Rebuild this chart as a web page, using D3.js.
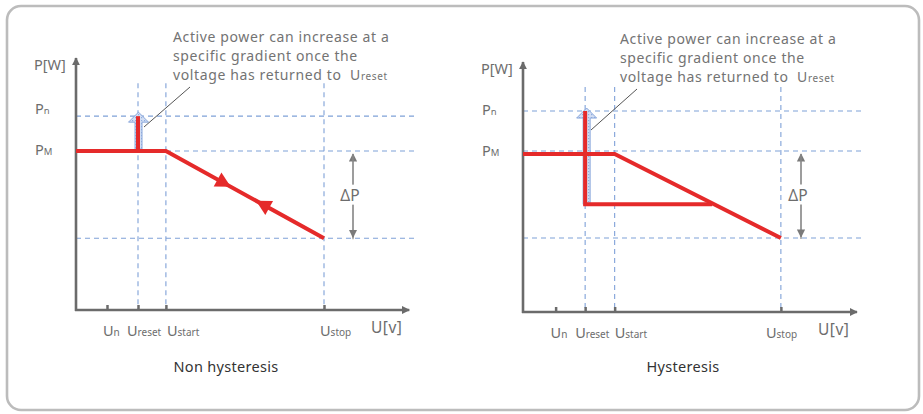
<!DOCTYPE html>
<html><head><meta charset="utf-8">
<script src="https://cdn.jsdelivr.net/npm/d3@7"></script>
<style>body{margin:0;background:#fff} svg{display:block}</style>
</head><body><svg id="chart" width="923" height="414"></svg>
<script>
// Marker names on the U axis and P axis (main letter + subscript)
const uTickNames = [["U", "n"], ["U", "reset"], ["U", "start"], ["U", "stop"]];
const pLevelNames = [["P", "n"], ["P", "M"]];
const panelTitles = ["Non hysteresis", "Hysteresis"];
const noteLines = ["Active power can increase at a", "specific gradient once the", "voltage has returned to  "];

// Non hysteresis: Un, Ureset, Ustart, Ustop and Pn, PM, P(Ustop)
const nhVoltages = [1, 2, 2.9, 8];
const nhPowers = [100, 82, 37];
const nhCurve = [[0, 82], [2.9, 82], [8, 37]];
const nhReset = [[2, 82], [2, 100]];
const nhDirMarks = [0.36, 0.62];

// Hysteresis: Un, Ureset, Ustart, Ustop and Pn, PM, P(Ustop)
const hyVoltages = [1.05, 2, 2.95, 8.3];
const hyPowers = [104.5, 83.7, 38.5];
const hyCurve = [[0, 82.2], [2.95, 82.2], [8.3, 38.5]];
const hyReturn = [[6.09, 56], [2, 56], [2, 104.5]];

const uMax = 10.75, uGrid = 11, pMax = 130, pGridTop = 117;

const svg = d3.select("#chart");
const RED = "#e52a2a", BLUE = "#7fa1d8", AXIS = "#6b6b6b", TXT = "#6d6d6d";
const FONT = "'Noto Sans', sans-serif";

// outer rounded frame
svg.append("rect").attr("x", 7).attr("y", 6).attr("width", 912).attr("height", 404)
  .attr("rx", 14).attr("fill", "#fff").attr("stroke", "#bcbcbc").attr("stroke-width", 2.6);

const defs = svg.append("defs");
defs.append("marker").attr("id", "axArrow").attr("viewBox", "0 0 10 10")
  .attr("refX", 9).attr("refY", 5).attr("markerWidth", 3.2).attr("markerHeight", 3.2)
  .attr("orient", "auto").attr("markerUnits", "strokeWidth")
  .append("path").attr("d", "M0,0L10,5L0,10z").attr("fill", AXIS);
defs.append("marker").attr("id", "dpArrow").attr("viewBox", "0 0 10 10")
  .attr("refX", 9).attr("refY", 5).attr("markerWidth", 7).attr("markerHeight", 7)
  .attr("orient", "auto").attr("markerUnits", "strokeWidth")
  .append("path").attr("d", "M0,0L10,5L0,10z").attr("fill", "#7a7a7a");
const pat = defs.append("pattern").attr("id", "hatch").attr("width", 3).attr("height", 3)
  .attr("patternUnits", "userSpaceOnUse");
pat.append("rect").attr("width", 3).attr("height", 3).attr("fill", "#d3def3");
pat.append("rect").attr("width", 1.2).attr("height", 1.2).attr("fill", "#8fadde");

function subText(g, x, y, main, sub, size, subSize, anchor) {
  const t = g.append("text").attr("x", x).attr("y", y).attr("font-family", FONT)
    .attr("fill", TXT).attr("font-size", size).attr("text-anchor", anchor || "start");
  t.append("tspan").text(main);
  t.append("tspan").attr("font-size", subSize).text(sub);
  return t;
}

function drawPanel(cfg) {
  const g = svg.append("g");
  const x = d3.scaleLinear().domain([0, uMax]).range(cfg.xRange);
  const y = d3.scaleLinear().domain([0, pMax]).range(cfg.yRange);
  const x0 = x(0), y0 = y(0);

  // dashed reference grid
  const dash = g.append("g").attr("stroke", BLUE).attr("stroke-width", 1.1)
    .attr("stroke-dasharray", "5,4").attr("fill", "none");
  cfg.powers.forEach(p => dash.append("line").attr("x1", x0).attr("x2", x(uGrid))
    .attr("y1", y(p)).attr("y2", y(p)));
  cfg.voltages.slice(1).forEach(u => dash.append("line").attr("x1", x(u)).attr("x2", x(u))
    .attr("y1", y(pGridTop)).attr("y2", y0));

  // axes
  g.append("g").attr("transform", `translate(0,${y0})`)
    .call(d3.axisBottom(x).tickValues(cfg.voltages).tickSizeInner(-5).tickSizeOuter(0).tickFormat(""))
    .call(a => a.select(".domain").remove())
    .call(a => a.selectAll(".tick line").attr("stroke", AXIS).attr("stroke-width", 2.5));
  g.append("line").attr("x1", x0 - 1).attr("x2", x(uMax)).attr("y1", y0).attr("y2", y0)
    .attr("stroke", AXIS).attr("stroke-width", 2.6).attr("marker-end", "url(#axArrow)");
  g.append("line").attr("x1", x0).attr("x2", x0).attr("y1", y0 + 1).attr("y2", y(pMax))
    .attr("stroke", AXIS).attr("stroke-width", 2.6).attr("marker-end", "url(#axArrow)");

  // axis labels
  g.append("text").attr("x", x0 - 42).attr("y", y(124)).attr("font-family", FONT)
    .attr("font-size", 14.5).attr("fill", TXT).text("P[W]");
  pLevelNames.forEach((n, i) => subText(g, x0 - 41, y(cfg.powers[i]) + cfg.pDy[i], n[0], n[1], 14.5, 9.5));
  uTickNames.forEach((n, i) => subText(g, x(cfg.voltages[i]) + cfg.uDx[i], y0 + 26, n[0], n[1], 14.5, 10));
  g.append("text").attr("x", cfg.uvX).attr("y", y0 + 23).attr("font-family", FONT)
    .attr("font-size", 15.5).attr("fill", TXT).attr("letter-spacing", 0.5).text("U[v]");

  // blue block arrow at Ureset (rise towards Pn)
  const ax = x(cfg.voltages[1]) + cfg.arrowShift, aTop = y(cfg.powers[0]) - cfg.tipLift, aBot = cfg.arrowBottom(y);
  const sw = 3.5, hw = 10, hh = 10;
  g.append("path").attr("d",
    `M${ax - sw},${aBot}L${ax - sw},${aTop + hh}L${ax - hw},${aTop + hh}L${ax},${aTop}` +
    `L${ax + hw},${aTop + hh}L${ax + sw},${aTop + hh}L${ax + sw},${aBot}Z`)
    .attr("fill", "url(#hatch)").attr("stroke", "#8aa8dc").attr("stroke-width", 1);

  // power curve
  const line = d3.line().x(d => x(d[0])).y(d => y(d[1]));
  g.append("path").datum(cfg.curve).attr("d", line).attr("fill", "none")
    .attr("stroke", RED).attr("stroke-width", 4).attr("stroke-linejoin", "miter");
  cfg.extra.forEach(seg => g.append("path").datum(seg).attr("d", line).attr("fill", "none")
    .attr("stroke", RED).attr("stroke-width", 4).attr("stroke-linejoin", "miter"));

  // direction markers on the sloped section
  if (cfg.dirMarks) {
    const a = cfg.curve[1], b = cfg.curve[2];
    const ang = Math.atan2(y(b[1]) - y(a[1]), x(b[0]) - x(a[0])) * 180 / Math.PI;
    cfg.dirMarks.forEach((f, i) => {
      const px = x(a[0] + (b[0] - a[0]) * f), py = y(a[1] + (b[1] - a[1]) * f);
      g.append("path").attr("d", "M9,0L-6,-8L-6,8Z").attr("fill", RED)
        .attr("transform", `translate(${px},${py}) rotate(${i === 0 ? ang : ang + 180})`);
    });
  }

  // ΔP span
  const dx = cfg.dpX;
  g.append("line").attr("x1", dx).attr("x2", dx).attr("y1", y(cfg.powers[2]) + 1).attr("y2", y(cfg.powers[1]) + 3)
    .attr("stroke", "#8a8a8a").attr("stroke-width", 1.2).attr("marker-end", "url(#dpArrow)");
  g.append("line").attr("x1", dx).attr("x2", dx).attr("y1", y(cfg.powers[1]) + 3).attr("y2", y(cfg.powers[2]) - 1)
    .attr("stroke", "#8a8a8a").attr("stroke-width", 1.2).attr("marker-end", "url(#dpArrow)");
  const my = (y(cfg.powers[1]) + y(cfg.powers[2])) / 2;
  g.append("rect").attr("x", dx - 12).attr("y", my - 10).attr("width", 24).attr("height", 20).attr("fill", "#fff");
  g.append("text").attr("x", dx - 3).attr("y", my + 6).attr("text-anchor", "middle").attr("font-family", FONT)
    .attr("font-size", 15.5).attr("fill", TXT).text("ΔP");

  // note with leader line
  g.append("line").attr("x1", cfg.leader[0]).attr("y1", cfg.leader[1]).attr("x2", cfg.leader[2]).attr("y2", cfg.leader[3])
    .attr("stroke", "#555").attr("stroke-width", 1);
  noteLines.forEach((t, i) => {
    const tx = g.append("text").attr("x", cfg.noteX).attr("y", cfg.noteY + i * 19).attr("font-family", FONT)
      .attr("font-size", 14).attr("letter-spacing", 0.62).attr("xml:space", "preserve")
      .style("white-space", "pre").attr("fill", "#737373").text(t);
    if (i === 2) { tx.append("tspan").attr("font-size", 14).text("U"); tx.append("tspan").attr("font-size", 10).text("reset"); }
  });

  g.append("text").attr("x", cfg.titleX).attr("y", 372).attr("text-anchor", "middle").attr("font-family", FONT)
    .attr("font-size", 14.5).attr("letter-spacing", 0.3).attr("fill", "#333").text(cfg.title);
}

drawPanel({
  title: panelTitles[0], titleX: 226, xRange: [76, 409.25], yRange: [310, 58],
  voltages: nhVoltages, powers: nhPowers, curve: nhCurve, extra: [nhReset], dirMarks: nhDirMarks,
  pDy: [-2, 4], uDx: [-4, -11, 1, -4], uvX: 371, arrowShift: 0.5, tipLift: 4,
  arrowBottom: y => y(nhPowers[1]) - 2, dpX: 353, leader: [190, 87, 144, 127], noteX: 173, noteY: 42
});
drawPanel({
  title: panelTitles[1], titleX: 683, xRange: [523, 857], yRange: [312, 62],
  voltages: hyVoltages, powers: hyPowers, curve: hyCurve, extra: [hyReturn], dirMarks: null,
  pDy: [4, 5], uDx: [-5, -10, 0, -15], uvX: 818, arrowShift: 1.5, tipLift: 3,
  arrowBottom: y => y(56), dpX: 801, leader: [637, 89, 591, 130], noteX: 620, noteY: 44
});
</script>
</body></html>
